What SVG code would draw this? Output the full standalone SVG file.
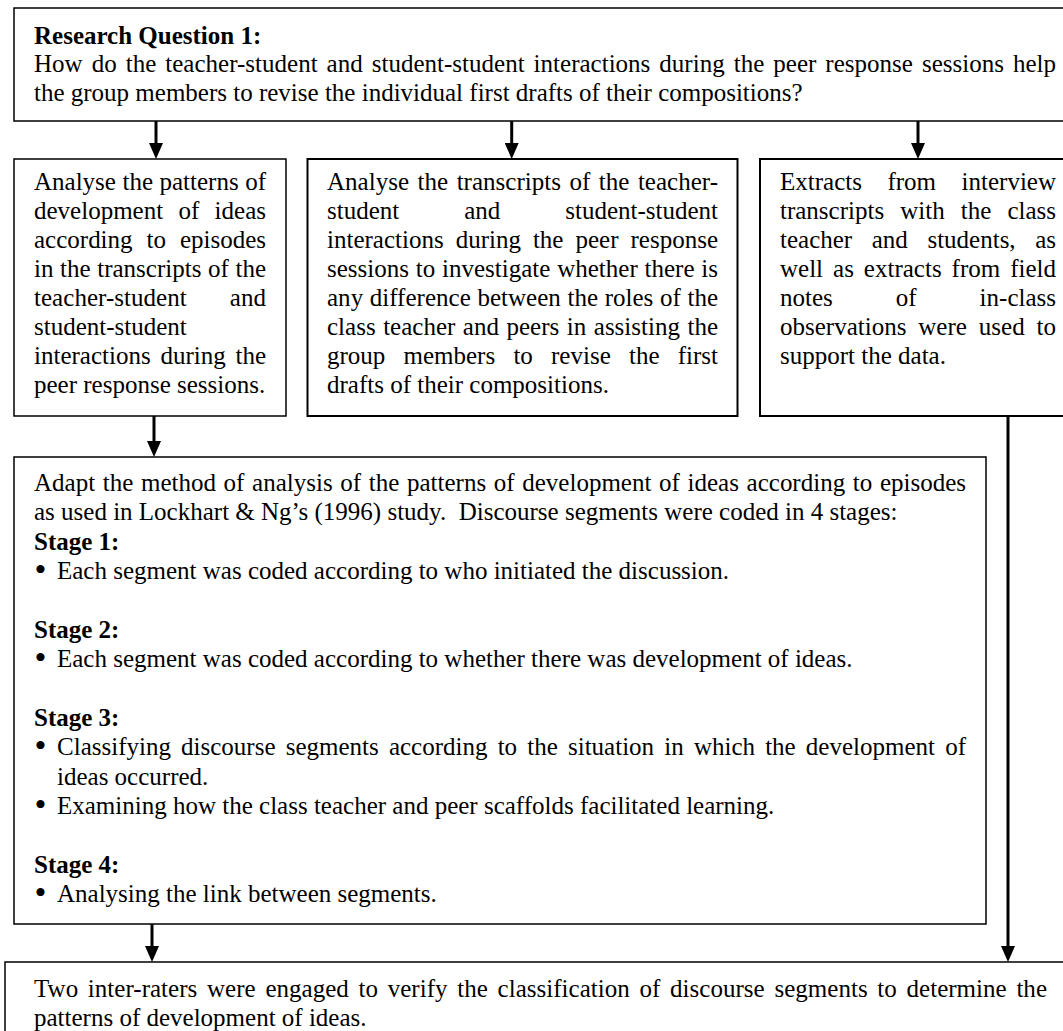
<svg xmlns="http://www.w3.org/2000/svg" width="1063" height="1031" viewBox="0 0 1063 1031">
<defs>
<style>
.box{fill:#fff;stroke:#000;stroke-width:1.5}
.box2{fill:#fff;stroke:#000;stroke-width:2}
.t{font-family:"Liberation Serif","Times New Roman",serif;font-size:25px;fill:#000}
.b{font-weight:bold}
.bul{font-family:"Liberation Serif","Times New Roman",serif;font-size:34px;fill:#000}
.conn{stroke:#000;stroke-width:3;fill:none;marker-end:url(#ah)}
</style>
<marker id="ah" markerUnits="userSpaceOnUse" markerWidth="16" markerHeight="14" viewBox="0 0 16 14" refX="8" refY="7" orient="auto">
<path d="M0,0 L16,7 L0,14 z" fill="#000"/>
</marker>
</defs>
<rect width="1063" height="1031" fill="#fff"/>

<g id="rq1">
<rect class="box" x="14" y="8" width="1070" height="113"/>
<text class="t b" x="34" y="43.5">Research Question 1:</text>
<text class="t" x="34" y="72" word-spacing="2.78" textLength="1022" lengthAdjust="spacing">How do the teacher-student and student-student interactions during the peer response sessions help</text>
<text class="t" x="34" y="101">the group members to revise the individual first drafts of their compositions?</text>
</g>

<g id="patterns">
<rect class="box" x="14" y="159" width="272" height="257"/>
<text class="t" x="34" y="189.5" word-spacing="0.25" textLength="232" lengthAdjust="spacing">Analyse the patterns of</text>
<text class="t" x="34" y="218.5" word-spacing="9.07" textLength="232" lengthAdjust="spacing">development of ideas</text>
<text class="t" x="34" y="247.5" word-spacing="7.7" textLength="232" lengthAdjust="spacing">according to episodes</text>
<text class="t" x="34" y="276.5" word-spacing="0.37" textLength="232" lengthAdjust="spacing">in the transcripts of the</text>
<text class="t" x="34" y="305.5" word-spacing="36.9" textLength="232" lengthAdjust="spacing">teacher-student and</text>
<text class="t" x="34" y="334.5">student-student</text>
<text class="t" x="34" y="363.5" word-spacing="3.5" textLength="232" lengthAdjust="spacing">interactions during the</text>
<text class="t" x="34" y="392.5">peer response sessions.</text>
</g>

<g id="roles">
<rect class="box2" x="307.5" y="159" width="430" height="257"/>
<text class="t" x="327" y="189.5" word-spacing="2.25" textLength="391" lengthAdjust="spacing">Analyse the transcripts of the teacher-</text>
<text class="t" x="327" y="218.5" word-spacing="58.7" textLength="391" lengthAdjust="spacing">student and student-student</text>
<text class="t" x="327" y="247.5" word-spacing="5.75" textLength="391" lengthAdjust="spacing">interactions during the peer response</text>
<text class="t" x="327" y="276.5" word-spacing="0.57" textLength="391" lengthAdjust="spacing">sessions to investigate whether there is</text>
<text class="t" x="327" y="305.5" word-spacing="0.375" textLength="391" lengthAdjust="spacing">any difference between the roles of the</text>
<text class="t" x="327" y="334.5" word-spacing="1.29" textLength="391" lengthAdjust="spacing">class teacher and peers in assisting the</text>
<text class="t" x="327" y="363.5" word-spacing="11.96" textLength="391" lengthAdjust="spacing">group members to revise the first</text>
<text class="t" x="327" y="392.5">drafts of their compositions.</text>
</g>

<g id="extracts">
<rect class="box2" x="760" y="159" width="330" height="257"/>
<text class="t" x="780" y="189.5" word-spacing="19.3" textLength="276" lengthAdjust="spacing">Extracts from interview</text>
<text class="t" x="780" y="218.5" word-spacing="9.83" textLength="276" lengthAdjust="spacing">transcripts with the class</text>
<text class="t" x="780" y="247.5" word-spacing="13.3" textLength="276" lengthAdjust="spacing">teacher and students, as</text>
<text class="t" x="780" y="276.5" word-spacing="3.74" textLength="276" lengthAdjust="spacing">well as extracts from field</text>
<text class="t" x="780" y="305.5" word-spacing="56.76" textLength="276" lengthAdjust="spacing">notes of in-class</text>
<text class="t" x="780" y="334.5" word-spacing="5.67" textLength="276" lengthAdjust="spacing">observations were used to</text>
<text class="t" x="780" y="363.5">support the data.</text>
</g>

<g id="method">
<rect class="box" x="14" y="457" width="972" height="467"/>
<text class="t" x="34" y="491" word-spacing="1.4" textLength="932" lengthAdjust="spacing">Adapt the method of analysis of the patterns of development of ideas according to episodes</text>
<text class="t" x="34" y="520.4">as used in Lockhart &amp; Ng’s (1996) study.&#160; Discourse segments were coded in 4 stages:</text>
<text class="t b" x="34" y="549.7">Stage 1:</text>
<text class="bul" x="34.5" y="581.2">•</text>
<text class="t" x="57" y="579">Each segment was coded according to who initiated the discussion.</text>
<text class="t b" x="34" y="637.8">Stage 2:</text>
<text class="bul" x="34.5" y="669.3">•</text>
<text class="t" x="57" y="667.1">Each segment was coded according to whether there was development of ideas.</text>
<text class="t b" x="34" y="725.8">Stage 3:</text>
<text class="bul" x="34.5" y="757.4">•</text>
<text class="t" x="57" y="755.2" word-spacing="3.92" textLength="909" lengthAdjust="spacing">Classifying discourse segments according to the situation in which the development of</text>
<text class="t" x="57" y="784.5">ideas occurred.</text>
<text class="bul" x="34.5" y="816.1">•</text>
<text class="t" x="57" y="813.9">Examining how the class teacher and peer scaffolds facilitated learning.</text>
<text class="t b" x="34" y="872.6">Stage 4:</text>
<text class="bul" x="34.5" y="904.1">•</text>
<text class="t" x="57" y="901.9">Analysing the link between segments.</text>
</g>

<g id="inter-raters">
<rect class="box" x="5" y="962" width="1090" height="100"/>
<text class="t" x="34" y="997" word-spacing="3.42" textLength="1013" lengthAdjust="spacing">Two inter-raters were engaged to verify the classification of discourse segments to determine the</text>
<text class="t" x="34" y="1026">patterns of development of ideas.</text>
</g>

<g id="connectors">
<line class="conn" x1="156" y1="121" x2="156" y2="151"/>
<line class="conn" x1="511.7" y1="121" x2="511.7" y2="151"/>
<line class="conn" x1="918" y1="121" x2="918" y2="151"/>
<line class="conn" x1="154" y1="416" x2="154" y2="449"/>
<line class="conn" x1="152" y1="924" x2="152" y2="954"/>
<line class="conn" x1="1008" y1="417" x2="1008" y2="954"/>
</g>
</svg>
